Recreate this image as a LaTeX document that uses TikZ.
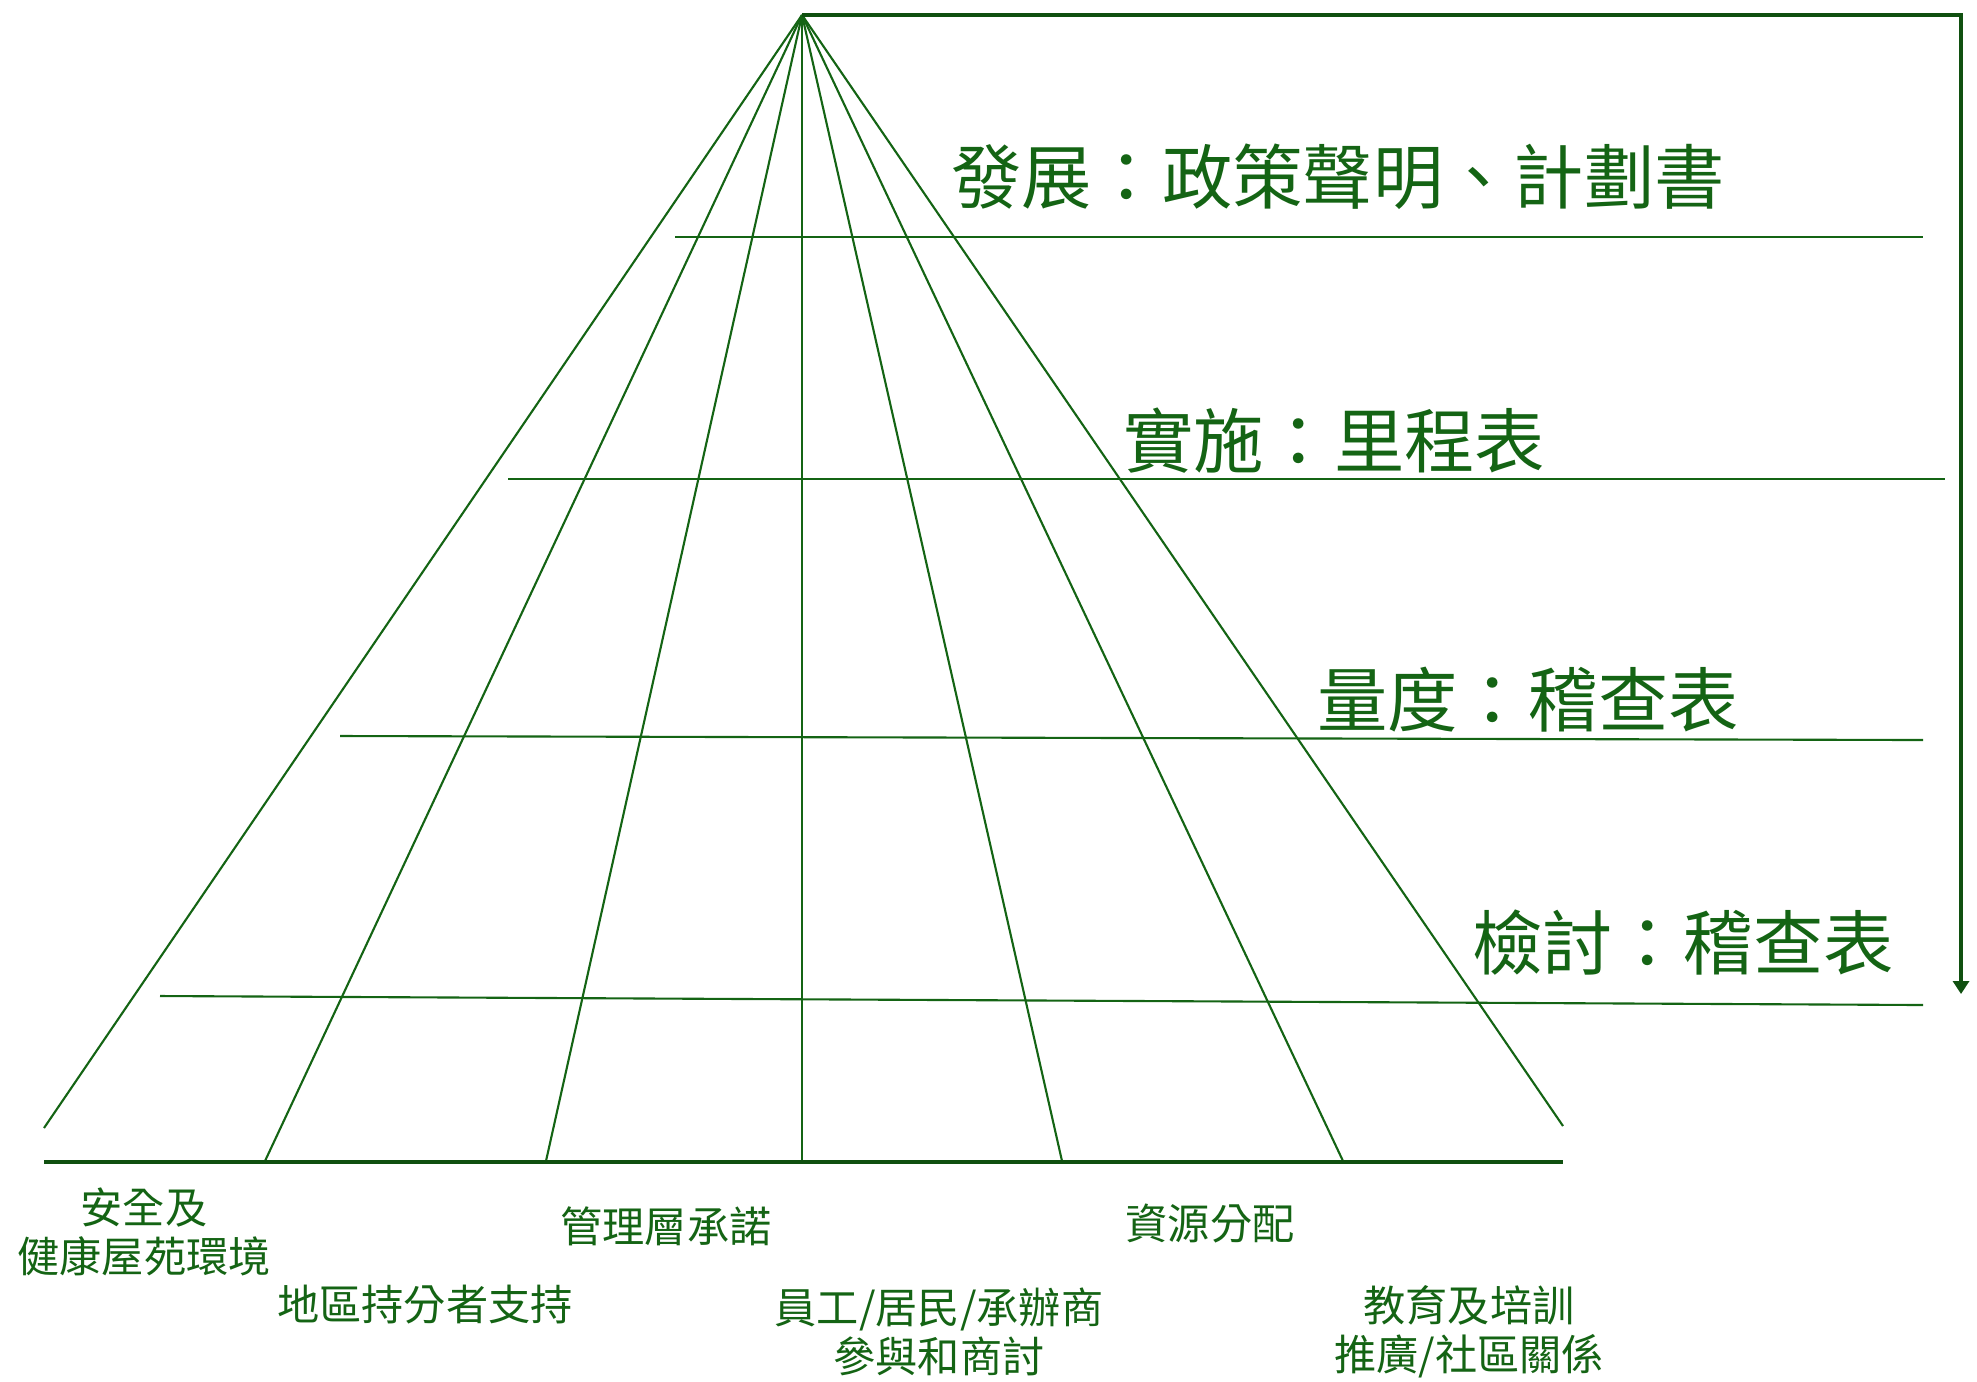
\documentclass[tikz,border=0pt]{standalone}
\usepackage{fontspec}
\newfontfamily\cjk{Noto Sans CJK TC}
\usetikzlibrary{positioning}
\usetikzlibrary{arrows.meta}
\definecolor{pgreen}{RGB}{20,100,20}
\tikzset{
    ray/.style = {draw=pgreen,line width=0.6pt},
    rung/.style = {draw=pgreen,line width=0.6pt},
    baseln/.style = {draw=pgreen!80!black,line width=1.3pt},
    flow/.style = {draw=pgreen!80!black,line width=1.1pt,-{Triangle[length=0.13cm,width=0.16cm]}},
    stagelbl/.style = {text=pgreen,inner sep=0pt,font=\cjk\fontsize{20}{24}\selectfont},
    factlbl/.style = {text=pgreen,inner sep=0pt,align=center,font=\cjk\fontsize{12}{14}\selectfont},
    every picture/.style={font issue=\cjk},
    font issue/.style={execute at begin picture={#1\selectfont}
  }
}

\begin{document}
\begin{tikzpicture}[x=0.01cm,y=-0.01cm]
\useasboundingbox (0,0) rectangle (1977,1381);
%
\coordinate (apex) at (802, 15);
\coordinate (r1) at (44, 1128);
\coordinate (r2) at (265, 1161);
\coordinate (r3) at (546, 1161);
\coordinate (r4) at (802, 1161);
\coordinate (r5) at (1062, 1161);
\coordinate (r6) at (1343, 1161);
\coordinate (r7) at (1563, 1126);
%
\draw[ray] (apex) -- (r1);
\draw[ray] (apex) -- (r2);
\draw[ray] (apex) -- (r3);
\draw[ray] (apex) -- (r4);
\draw[ray] (apex) -- (r5);
\draw[ray] (apex) -- (r6);
\draw[ray] (apex) -- (r7);

% rungs
\coordinate (dl) at (675, 237);
\coordinate (dr) at (1923, 237);
\coordinate (il) at (508, 479);
\coordinate (ir) at (1945, 479);
\coordinate (ml) at (340, 736);
\coordinate (mr) at (1923, 740);
\coordinate (vl) at (160, 996);
\coordinate (vr) at (1923, 1005);
\draw[rung] (dl) -- (dr);
\draw[rung] (il) -- (ir);
\draw[rung] (ml) -- (mr);
\draw[rung] (vl) -- (vr);

% base
\coordinate (bl) at (44, 1162);
\coordinate (br) at (1563, 1162);
\draw[baseln] (bl) -- (br);

% loop back
\coordinate (corner) at (1961, 15);
\coordinate (back) at (1961, 994);
\draw[flow] (apex) -- (corner) -- (back);

\node[stagelbl] at (1338, 177) (dev) {發展：政策聲明、計劃書};
\node[stagelbl] at (1334, 441) (impl) {實施：里程表};
\node[stagelbl] at (1528, 700) (meas) {量度：稽查表};
\node[stagelbl] at (1683, 943) (rev) {檢討：稽查表};

\node[factlbl] at (144, 1232) (env) {安全及\\健康屋苑環境};
\node[factlbl] at (425, 1305) (stake) {地區持分者支持};
\node[factlbl] at (666, 1226) (mgmt) {管理層承諾};
\node[factlbl] at (939, 1332) (part) {員工/居民/承辦商\\參與和商討};
\node[factlbl] at (1210, 1223) (res) {資源分配};
\node[factlbl] at (1469, 1332) (edu) {教育及培訓\\推廣/社區關係};

\end{tikzpicture}
\end{document}
